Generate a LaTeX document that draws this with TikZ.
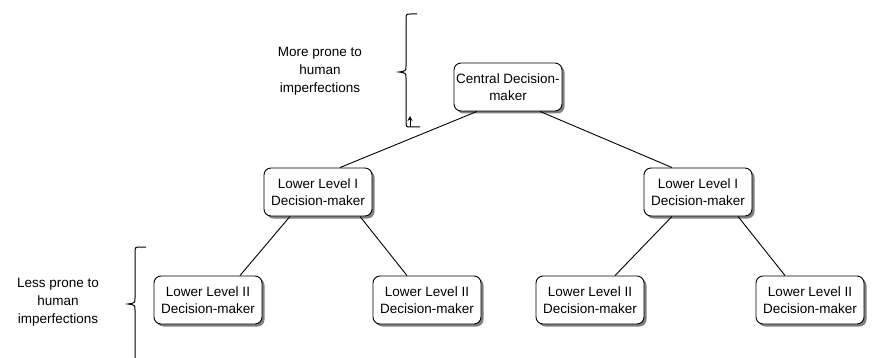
\documentclass[tikz,border=0pt]{standalone}
\usepackage{fontspec}
\setmainfont{Liberation Sans}
\usetikzlibrary{shadows,arrows.meta}
\tikzset{
  dm/.style={draw=black, line width=0.9pt, fill=white, rounded corners=7pt,
    minimum width=108pt, minimum height=48pt, align=center, inner sep=1.5pt,
    font=\fontsize{13.5}{17}\selectfont,
    drop shadow={shadow xshift=2.5pt, shadow yshift=-2.5pt, fill=black!50, opacity=1}},
  lbl/.style={align=center, font=\fontsize{13.5}{18}\selectfont},
  conn/.style={draw=black, line width=0.9pt},
  brace/.style={draw=black, line width=1pt}
}
\begin{document}
\begin{tikzpicture}[x=1pt,y=-1pt]
\useasboundingbox (0,0) rectangle (883,358);
% nodes
\node[dm] (c)  at (508,87)  {Central Decision-\\maker};
\node[dm] (l1) at (318,192) {Lower Level I\\Decision-maker};
\node[dm] (l2) at (698,192) {Lower Level I\\Decision-maker};
\node[dm] (b1) at (208,300) {Lower Level II\\Decision-maker};
\node[dm] (b2) at (427,300) {Lower Level II\\Decision-maker};
\node[dm] (b3) at (590,300) {Lower Level II\\Decision-maker};
\node[dm] (b4) at (810,300) {Lower Level II\\Decision-maker};
% labels
\node[lbl] (more) at (320,71) {More prone to\\human\\imperfections};
\node[lbl] (less) at (58,302) {Less prone to\\human\\imperfections};
% connectors
\draw[conn] ([xshift=-31pt]c.south) -- ([xshift=22pt]l1.north);
\draw[conn] ([xshift=32pt]c.south) -- ([xshift=-26pt]l2.north);
\draw[conn] ([xshift=-28pt]l1.south) -- ([xshift=32pt]b1.north);
\draw[conn] ([xshift=42pt]l1.south) -- ([xshift=-20pt]b2.north);
\draw[conn] ([xshift=-26pt]l2.south) -- ([xshift=25pt]b3.north);
\draw[conn] ([xshift=40pt]l2.south) -- ([xshift=-25pt]b4.north);
% braces
\coordinate (t1) at (417,14);
\coordinate (t2) at (420,127);
\draw[brace] (t1) -- (411,14) .. controls (406,14) .. (406,20) -- (406,66)
  .. controls (406,71) .. (399,72) .. controls (406,73) .. (406,78) -- (406,121)
  .. controls (406,127) .. (411,127) -- (t2);
\draw[line width=0.9pt, -{Stealth[length=5pt,width=5pt]}] (410,127) -- (410,116);
\coordinate (u1) at (146,247);
\coordinate (u2) at (146,362);
\draw[brace] (u1) -- (141,247) .. controls (135,247) .. (135,253) -- (135,298)
  .. controls (135,303) .. (128,304) .. controls (135,305) .. (135,310) -- (135,356)
  .. controls (135,362) .. (141,362) -- (u2);
\end{tikzpicture}
\end{document}
